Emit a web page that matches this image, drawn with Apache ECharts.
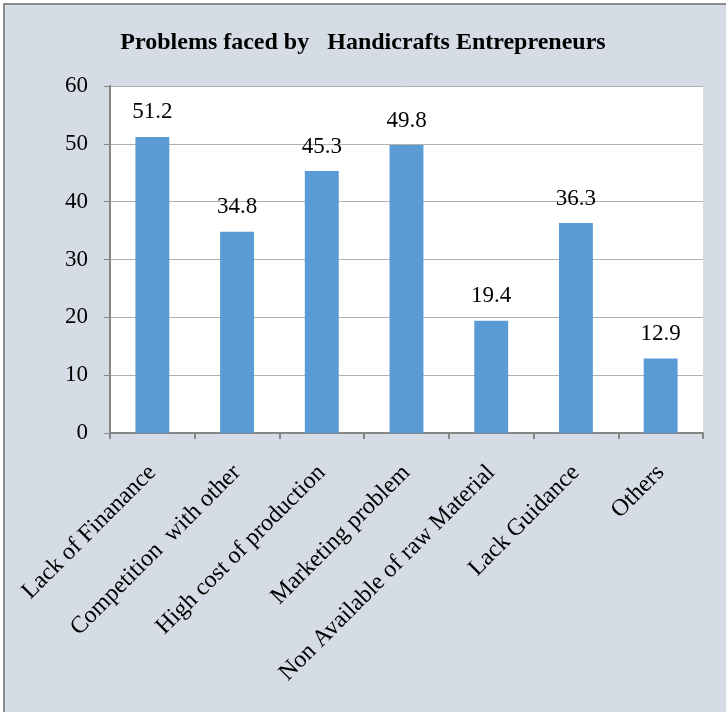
<!DOCTYPE html>
<html>
<head>
<meta charset="utf-8">
<script src="https://cdn.jsdelivr.net/npm/echarts@6/dist/echarts.min.js"></script>
<style>
  html, body { margin: 0; padding: 0; background: #ffffff; overflow: hidden; }
  #frame {
    position: absolute; left: 3px; top: 3px;
    width: 740px; height: 730px;
    border: 2px solid #8c8c8c;
    background: #d5dce6;
  }
  #chart { position: absolute; left: -5px; top: -5px; width: 726px; height: 712px; }
</style>
</head>
<body>
<div id="frame"><div id="chart"></div></div>
<script>
// Survey responses: problems reported by handicraft entrepreneurs (%)
const chartTitle = 'Problems faced by   Handicrafts Entrepreneurs';
const categories = [
  'Lack of Finanance',
  'Competition  with other',
  'High cost of production',
  'Marketing problem',
  'Non Available of raw Material',
  'Lack Guidance',
  'Others'
];
const values = [51.2, 34.8, 45.3, 49.8, 19.4, 36.3, 12.9];
const yTicks = { min: 0, max: 60, interval: 10 };

const serif = '"Liberation Serif", "Times New Roman", serif';
const chart = echarts.init(document.getElementById('chart'), null, { renderer: 'canvas' });

chart.setOption({
  backgroundColor: 'transparent',
  animation: false,
  title: {
    text: chartTitle,
    left: 'center',
    top: 26,
    textStyle: { fontFamily: serif, fontSize: 24, fontWeight: 'bold', color: '#000' }
  },
  grid: { left: 110, right: 23, top: 86, bottom: 279, containLabel: false, show: true, backgroundColor: '#ffffff', borderWidth: 0 },
  xAxis: {
    type: 'category',
    data: categories,
    axisLine: { show: true, lineStyle: { color: '#868686', width: 2 } },
    axisTick: { show: true, length: 6, alignWithLabel: false, lineStyle: { color: '#868686', width: 2 } },
    axisLabel: {
      rotate: 45, interval: 0, margin: 36,
      fontFamily: serif, fontSize: 24, color: '#000'
    }
  },
  yAxis: {
    type: 'value',
    min: yTicks.min, max: yTicks.max, interval: yTicks.interval,
    axisLine: { show: true, lineStyle: { color: '#868686', width: 2 } },
    axisTick: { show: true, length: 6, lineStyle: { color: '#868686', width: 1 } },
    splitLine: { show: true, lineStyle: { color: '#b0b0b0', width: 1 } },
    axisLabel: { margin: 22, fontFamily: serif, fontSize: 23, color: '#000' }
  },
  series: [{
    type: 'bar',
    data: values,
    barWidth: '40%',
    itemStyle: { color: '#5b9bd5' },
    label: {
      show: true, position: 'top', distance: 13,
      fontFamily: serif, fontSize: 23, color: '#000',
      formatter: p => p.value.toFixed(1)
    }
  }]
});
</script>
</body>
</html>
